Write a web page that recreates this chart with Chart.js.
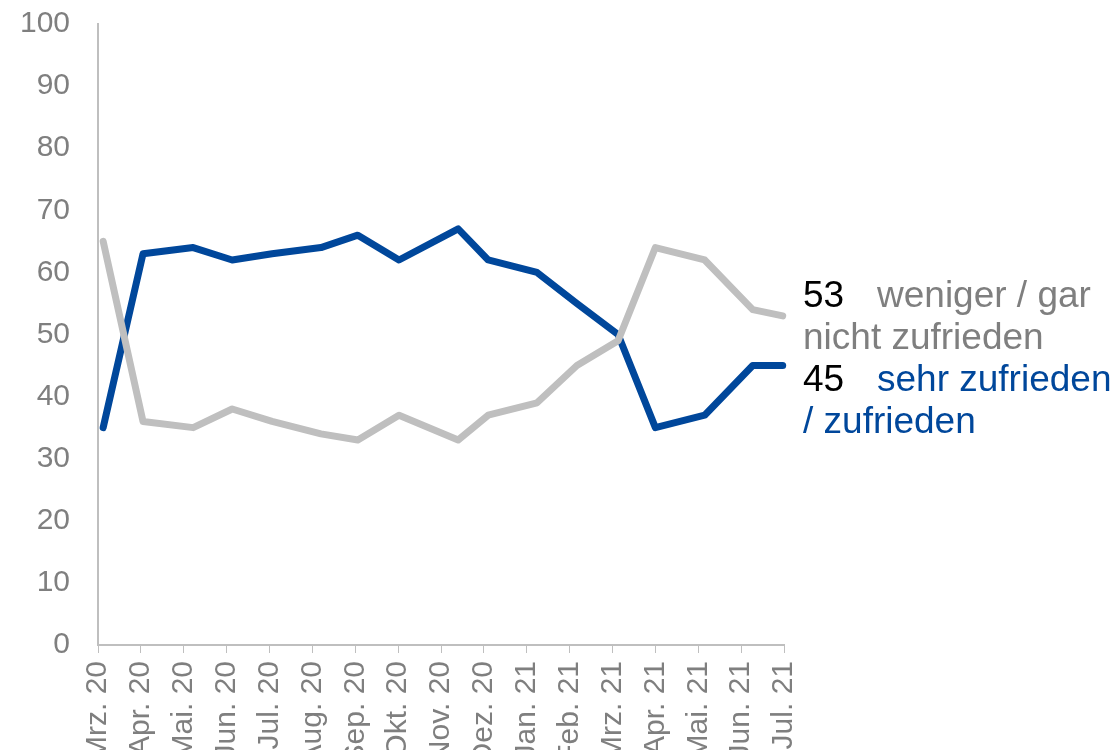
<!DOCTYPE html>
<html>
<head>
<meta charset="utf-8">
<script src="https://cdn.jsdelivr.net/npm/chart.js@4/dist/chart.umd.min.js"></script>
<style>
  html, body { margin: 0; padding: 0; background: #fff; overflow: hidden; }
  #wrap { width: 1117px; height: 750px; }
</style>
</head>
<body>
<div id="wrap"><canvas id="chart" width="1117" height="750"></canvas></div>
<script>
// month tick labels
const months = ["Mrz. 20", "Apr. 20", "Mai. 20", "Jun. 20", "Jul. 20", "Aug. 20", "Sep. 20", "Okt. 20",
  "Nov. 20", "Dez. 20", "Jan. 21", "Feb. 21", "Mrz. 21", "Apr. 21", "Mai. 21", "Jun. 21", "Jul. 21"];

// survey dates, in months since Mrz. 20
const surveyPos = [0.12, 1.05, 2.22, 3.13, 4.06, 5.2, 6.06, 7.02, 8.4, 9.1, 10.24, 11.17, 12.13, 13.0, 14.15, 15.27, 15.97];

const unzufrieden = [65, 36, 35, 38, 36, 34, 33, 37, 33, 37, 39, 45, 49, 64, 62, 54, 53];
const zufrieden = [35, 63, 64, 62, 63, 64, 66, 62, 67, 62, 60, 55, 50, 35, 37, 45, 45];

const unzufriedenLabel = ["weniger / gar", "nicht zufrieden"];
const zufriedenLabel = ["sehr zufrieden", "/ zufrieden"];

const GREY = "#bfbfbf";
const BLUE = "#00479b";
const TEXT = "#7f7f7f";
const FONT = "'Liberation Sans', Arial, sans-serif";

const toPoints = vals => vals.map((v, i) => ({ x: surveyPos[i], y: v }));

// end labels on the right of the plot
const endLabels = {
  id: "endLabels",
  afterDatasetsDraw(chart) {
    const { ctx, scales } = chart;
    const x0 = scales.x.right + 19;
    const x1 = x0 + 74;
    const lh = 42;
    const y0 = scales.y.getPixelForValue(unzufrieden[unzufrieden.length - 1]) - 19;
    ctx.save();
    ctx.font = "37px " + FONT;
    ctx.textBaseline = "middle";
    ctx.textAlign = "left";

    ctx.fillStyle = "#000";
    ctx.fillText(String(unzufrieden[unzufrieden.length - 1]), x0, y0);
    ctx.fillStyle = TEXT;
    ctx.fillText(unzufriedenLabel[0], x1, y0);
    ctx.fillText(unzufriedenLabel[1], x0, y0 + lh);

    ctx.fillStyle = "#000";
    ctx.fillText(String(zufrieden[zufrieden.length - 1]), x0, y0 + 2 * lh);
    ctx.fillStyle = BLUE;
    ctx.fillText(zufriedenLabel[0], x1, y0 + 2 * lh);
    ctx.fillText(zufriedenLabel[1], x0, y0 + 3 * lh);
    ctx.restore();
  }
};

new Chart(document.getElementById("chart").getContext("2d"), {
  type: "line",
  data: {
    datasets: [
      {
        label: "weniger / gar nicht zufrieden",
        data: toPoints(unzufrieden),
        borderColor: GREY,
        borderWidth: 7,
        borderCapStyle: "round",
        borderJoinStyle: "round",
        pointRadius: 0,
        tension: 0,
        clip: false
      },
      {
        label: "sehr zufrieden / zufrieden",
        data: toPoints(zufrieden),
        borderColor: BLUE,
        borderWidth: 7,
        borderCapStyle: "round",
        borderJoinStyle: "round",
        pointRadius: 0,
        tension: 0,
        clip: false
      }
    ]
  },
  options: {
    responsive: false,
    animation: false,
    layout: { padding: { top: 24, right: 333, left: 0, bottom: 0 } },
    plugins: {
      legend: { display: false },
      tooltip: { enabled: false }
    },
    scales: {
      x: {
        type: "linear",
        min: 0,
        max: 16,
        afterFit: s => { s.height = 105; s.paddingLeft = 0; s.paddingRight = 0; },
        afterBuildTicks: s => { s.ticks = months.map((m, i) => ({ value: i })); },
        grid: { drawOnChartArea: false, drawTicks: true, tickLength: 8, color: GREY },
        border: { display: true, color: GREY, width: 2 },
        ticks: {
          autoSkip: false,
          minRotation: 90,
          maxRotation: 90,
          padding: 8,
          color: TEXT,
          font: { family: FONT, size: 30 },
          callback: v => months[v]
        }
      },
      y: {
        min: 0,
        max: 100,
        afterFit: s => { s.width = 98; s.paddingTop = 0; s.paddingBottom = 0; },
        grid: { display: false },
        border: { display: true, color: GREY, width: 2 },
        ticks: {
          stepSize: 10,
          padding: 20,
          color: TEXT,
          font: { family: FONT, size: 30 }
        }
      }
    }
  },
  plugins: [endLabels]
});
</script>
</body>
</html>
